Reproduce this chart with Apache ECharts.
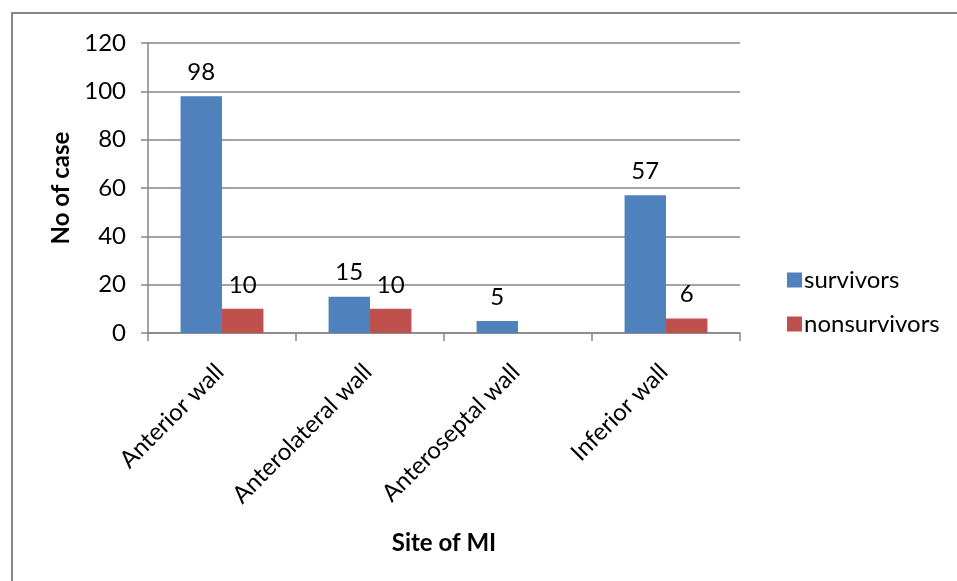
<!DOCTYPE html>
<html>
<head>
<meta charset="utf-8">
<script src="https://cdn.jsdelivr.net/npm/echarts@6/dist/echarts.min.js"></script>
<style>
  html, body { margin: 0; padding: 0; background: #fff; }
  #chart { width: 957px; height: 581px; }
</style>
</head>
<body>
<div id="chart"></div>
<script>
// Site of myocardial infarction vs outcome
const categories = ['Anterior wall', 'Anterolateral wall', 'Anteroseptal wall', 'Inferior wall'];
const survivors = [98, 15, 5, 57];
const nonsurvivors = [10, 10, null, 6];
const yTicks = { min: 0, max: 120, interval: 20 };

const FONT = 'Lato, "Open Sans", sans-serif';
const GREY = '#868686';
const FS = 24;

const chart = echarts.init(document.getElementById('chart'), null, { renderer: 'canvas' });

const labelStyle = {
  show: true,
  position: 'top',
  distance: 12,
  color: '#000',
  fontFamily: FONT,
  fontSize: FS
};

chart.setOption({
  animation: false,
  backgroundColor: '#fff',
  textStyle: { fontFamily: FONT },
  graphic: [{
    type: 'rect',
    silent: true,
    shape: { x: 12, y: 13, width: 960, height: 600 },
    style: { fill: 'none', stroke: GREY, lineWidth: 2 }
  }],
  grid: { left: 148, right: 217, top: 43, bottom: 248, containLabel: false },
  legend: {
    orient: 'vertical',
    left: 782,
    top: 263,
    itemWidth: 15,
    itemHeight: 15,
    itemGap: 20,
    icon: 'rect',
    textStyle: { fontFamily: FONT, fontSize: FS, color: '#000', padding: [0, 0, 0, -3] },
    data: ['survivors', 'nonsurvivors']
  },
  xAxis: {
    type: 'category',
    data: categories,
    name: 'Site of MI',
    nameLocation: 'middle',
    nameGap: 198,
    nameTextStyle: { fontFamily: FONT, fontSize: FS, fontWeight: 'bold', color: '#000' },
    axisLine: { show: true, lineStyle: { color: GREY, width: 1.5 } },
    axisTick: { show: true, alignWithLabel: false, length: 8, lineStyle: { color: GREY, width: 1.5 } },
    axisLabel: {
      rotate: 45,
      margin: 33,
      padding: [0, 3, 0, 0],
      interval: 0,
      color: '#000',
      fontFamily: FONT,
      fontSize: FS
    }
  },
  yAxis: {
    type: 'value',
    min: yTicks.min,
    max: yTicks.max,
    interval: yTicks.interval,
    name: 'No of case',
    nameLocation: 'middle',
    nameGap: 74,
    nameRotate: 90,
    nameTextStyle: { fontFamily: FONT, fontSize: FS, fontWeight: 'bold', color: '#000' },
    axisLine: { show: true, lineStyle: { color: GREY, width: 1.5 } },
    axisTick: { show: true, length: 7, lineStyle: { color: GREY, width: 1.5 } },
    splitLine: { show: true, lineStyle: { color: GREY, width: 1.5 } },
    axisLabel: { margin: 22, color: '#000', fontFamily: FONT, fontSize: FS }
  },
  series: [
    {
      name: 'survivors',
      type: 'bar',
      data: survivors,
      barGap: '0%',
      barCategoryGap: '44%',
      itemStyle: { color: '#4F81BD' },
      label: labelStyle
    },
    {
      name: 'nonsurvivors',
      type: 'bar',
      data: nonsurvivors,
      barGap: '0%',
      barCategoryGap: '44%',
      itemStyle: { color: '#C0504D' },
      label: labelStyle
    }
  ]
});
</script>
</body>
</html>
